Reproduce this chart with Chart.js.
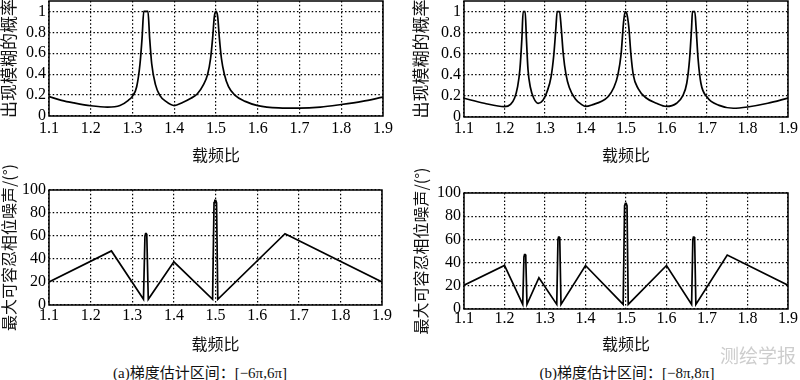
<!DOCTYPE html>
<html>
<head>
<meta charset="utf-8">
<script src="https://cdn.jsdelivr.net/npm/chart.js@4.4.0/dist/chart.umd.min.js"></script>
<style>
    body { margin: 0; background: #fff; }
    #wrap { position: relative; width: 800px; height: 380px; overflow: hidden; background: #fff; }
    canvas { position: absolute; }
    .cap { position: absolute; font-family: 'Liberation Serif', 'Noto Sans CJK SC'; font-size: 15px; line-height: 15px; color: #111; white-space: nowrap; transform: translateX(-50%); }
    #mark { position: absolute; left: 720px; top: 345px; font-family: 'Noto Sans CJK SC'; font-size: 19px; line-height: 19px; color: #cdcdcd; }
</style>
</head>
<body>
<div id="wrap">
    <canvas id="probA" width="400" height="167" style="left:0;top:0"></canvas>
    <canvas id="probB" width="400" height="167" style="left:400px;top:0"></canvas>
    <canvas id="noiseA" width="400" height="191" style="left:0;top:165px"></canvas>
    <canvas id="noiseB" width="400" height="191" style="left:400px;top:165px"></canvas>
    <div class="cap" style="left:200px;top:366px">(a)梯度估计区间：[−6π,6π]</div>
    <div class="cap" style="left:627px;top:366px">(b)梯度估计区间：[−8π,8π]</div>
    <div id="mark">测绘学报</div>
</div>
<script>
const xTicks = [1.1, 1.2, 1.3, 1.4, 1.5, 1.6, 1.7, 1.8, 1.9];
const probTicks = [0, 0.2, 0.4, 0.6, 0.8, 1];
const noiseTicks = [0, 20, 40, 60, 80, 100];

// (a) [-6π,6π] probability of ambiguity
const probRatio6 = [1.10, 1.13, 1.16, 1.20, 1.24, 1.27, 1.29, 1.30, 1.31, 1.318, 1.323, 1.327, 1.337, 1.341, 1.346, 1.355, 1.365, 1.38, 1.40, 1.42, 1.44, 1.455, 1.47, 1.48, 1.487, 1.492, 1.496, 1.50, 1.504, 1.508, 1.513, 1.52, 1.53, 1.545, 1.57, 1.60, 1.65, 1.70, 1.75, 1.80, 1.85, 1.90];
const prob6 = [0.185, 0.15, 0.125, 0.098, 0.085, 0.10, 0.15, 0.19, 0.28, 0.5, 0.75, 1.0, 1.0, 0.75, 0.5, 0.3, 0.2, 0.14, 0.10, 0.13, 0.17, 0.21, 0.30, 0.40, 0.55, 0.75, 0.95, 1.0, 0.95, 0.75, 0.55, 0.40, 0.28, 0.2, 0.14, 0.10, 0.078, 0.075, 0.085, 0.11, 0.14, 0.18];

// (b) [-8π,8π] probability of ambiguity
const probRatio8 = [1.10, 1.15, 1.20, 1.215, 1.225, 1.232, 1.238, 1.243, 1.246, 1.251, 1.254, 1.258, 1.264, 1.272, 1.283, 1.295, 1.305, 1.315, 1.322, 1.327, 1.330, 1.336, 1.340, 1.345, 1.352, 1.36, 1.375, 1.39, 1.40, 1.42, 1.44, 1.455, 1.47, 1.48, 1.488, 1.494, 1.498, 1.502, 1.507, 1.512, 1.518, 1.53, 1.55, 1.575, 1.60, 1.625, 1.64, 1.65, 1.657, 1.662, 1.664, 1.670, 1.673, 1.678, 1.685, 1.70, 1.73, 1.765, 1.80, 1.85, 1.90];
const prob8 = [0.178, 0.13, 0.098, 0.12, 0.18, 0.28, 0.45, 0.75, 1.0, 1.0, 0.75, 0.45, 0.28, 0.18, 0.13, 0.16, 0.24, 0.38, 0.6, 0.85, 1.0, 1.0, 0.85, 0.6, 0.4, 0.28, 0.17, 0.12, 0.10, 0.12, 0.15, 0.19, 0.28, 0.4, 0.6, 0.9, 1.0, 0.98, 0.85, 0.6, 0.4, 0.27, 0.18, 0.13, 0.10, 0.13, 0.2, 0.32, 0.55, 0.85, 1.0, 1.0, 0.85, 0.55, 0.32, 0.19, 0.11, 0.083, 0.095, 0.13, 0.18];

// (a) [-6π,6π] max tolerable phase noise
const noiseRatio6 = [1.1, 1.25, 1.327, 1.3305, 1.332, 1.3335, 1.335, 1.3385, 1.4, 1.493, 1.4965, 1.4985, 1.5005, 1.5025, 1.5055, 1.667, 1.9];
const noise6 = [20, 47, 5, 60, 62, 62, 60, 5, 37.5, 5, 89, 91, 91, 89, 5, 62, 20];

// (b) [-8π,8π] max tolerable phase noise
const noiseRatio8 = [1.1, 1.2, 1.245, 1.248, 1.2495, 1.251, 1.2525, 1.2555, 1.285, 1.329, 1.332, 1.3335, 1.335, 1.3365, 1.3395, 1.4, 1.493, 1.4965, 1.4985, 1.5005, 1.5025, 1.5055, 1.6, 1.662, 1.665, 1.6665, 1.668, 1.6695, 1.6725, 1.75, 1.9];
const noise8 = [20.5, 37.5, 4, 45, 47, 47, 45, 4, 27, 4, 60, 62, 62, 60, 4, 37.5, 4, 89, 91, 91, 89, 4, 37.5, 4, 60, 62, 62, 60, 4, 46.5, 20.5];

const framePlugin = {
    id: 'frame',
    afterDatasetsDraw(chart) {
        const {ctx, chartArea: a} = chart;
        ctx.save();
        ctx.strokeStyle = '#000';
        ctx.lineWidth = 1.5;
        ctx.strokeRect(a.left, a.top, a.right - a.left, a.bottom - a.top);
        ctx.restore();
    }
};

function makeChart(id, xs, ys, g) {
    new Chart(document.getElementById(id), {
        type: 'line',
        data: {
            datasets: [{
                data: xs.map((x, i) => ({x: x, y: ys[i]})),
                borderColor: '#000',
                borderWidth: 1.7,
                pointRadius: 0,
                fill: false,
                tension: 0,
                cubicInterpolationMode: g.smooth ? 'monotone' : 'default'
            }]
        },
        options: {
            responsive: false,
            animation: false,
            events: [],
            layout: { padding: { top: g.padTop, right: g.padRight, left: 0, bottom: 2 } },
            plugins: { legend: { display: false }, tooltip: { enabled: false } },
            scales: {
                x: {
                    type: 'linear', min: 1.1, max: 1.9,
                    afterBuildTicks: s => { s.ticks = xTicks.map(v => ({value: v})); },
                    afterFit: s => { s.height = g.xH; s.paddingLeft = 0; s.paddingRight = 0; },
                    ticks: {
                        autoSkip: false, maxRotation: 0, padding: g.xPad, color: '#000',
                        font: { family: 'Liberation Serif', size: 16 },
                        callback: v => Number(v).toFixed(1)
                    },
                    grid: { color: '#000', lineWidth: 1.2, drawTicks: false },
                    border: { display: false, dash: [1.5, 2.2] },
                    title: {
                        display: true, text: '载频比', color: '#111',
                        font: { family: 'Noto Sans CJK SC', size: 16, lineHeight: 1.2 },
                        padding: { top: 0, bottom: 0 }
                    }
                },
                y: {
                    type: 'linear', min: 0, max: g.yMax,
                    afterBuildTicks: s => { s.ticks = g.yTicks.map(v => ({value: v})); },
                    afterFit: s => { s.width = g.yW; s.paddingTop = 0; s.paddingBottom = 0; },
                    ticks: {
                        autoSkip: false, padding: 3, color: '#000',
                        font: { family: 'Liberation Serif', size: 16 },
                        callback: v => String(v)
                    },
                    grid: { color: '#000', lineWidth: 1.2, drawTicks: false },
                    border: { display: false, dash: [1.5, 2.2] },
                    title: {
                        display: true, text: g.yTitle, color: '#111',
                        font: { family: 'Noto Sans CJK SC', size: g.tSize, lineHeight: 1 },
                        padding: { top: g.tPad, bottom: 0 }
                    }
                }
            }
        },
        plugins: [framePlugin]
    });
}

makeChart('probA', probRatio6, prob6, {
    smooth: true, padTop: 1, padRight: 17, yW: 49, xH: 49, xPad: 3,
    yMax: 1.1, yTicks: probTicks, yTitle: '出现模糊的概率', tSize: 17, tPad: 0
});
makeChart('probB', probRatio8, prob8, {
    smooth: true, padTop: 1, padRight: 12, yW: 64, xH: 48, xPad: 2,
    yMax: 1.1, yTicks: probTicks, yTitle: '出现模糊的概率', tSize: 17, tPad: 12.5
});
makeChart('noiseA', noiseRatio6, noise6, {
    smooth: false, padTop: 25, padRight: 18, yW: 49, xH: 49, xPad: 1,
    yMax: 100, yTicks: noiseTicks, yTitle: '最大可容忍相位噪声/(°)', tSize: 16, tPad: 1
});
makeChart('noiseB', noiseRatio8, noise8, {
    smooth: false, padTop: 28, padRight: 12, yW: 64, xH: 45, xPad: 0,
    yMax: 100, yTicks: noiseTicks, yTitle: '最大可容忍相位噪声/(°)', tSize: 16, tPad: 13
});
</script>
</body>
</html>
